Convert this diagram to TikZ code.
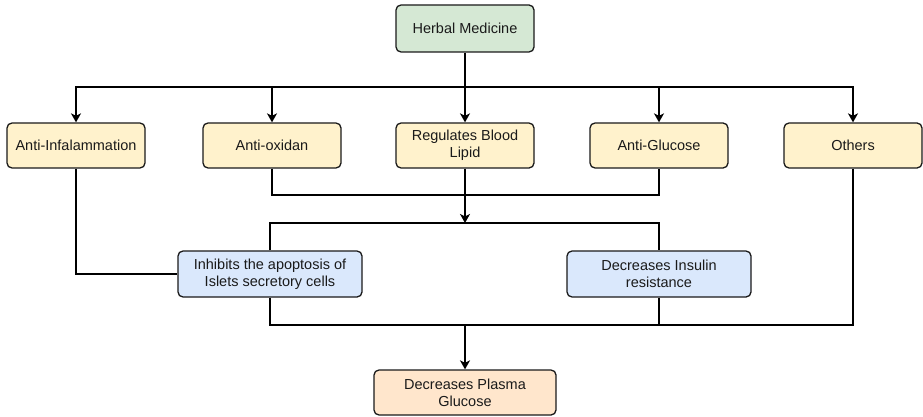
\documentclass[tikz,border=0pt]{standalone}
\usepackage{fontspec}
\setmainfont{Liberation Sans}
\usetikzlibrary{arrows.meta}
\definecolor{gfill}{HTML}{D5E8D4}
\definecolor{yfill}{HTML}{FFF2CC}
\definecolor{bfill}{HTML}{DAE8FC}
\definecolor{ofill}{HTML}{FFE6CC}
\definecolor{ink}{HTML}{1A1A1A}
\tikzset{
  box/.style={draw=ink, line width=1.3pt, rounded corners=5pt, align=center,
    font=\fontsize{14.5}{16.7}\selectfont, text=ink, inner sep=0pt},
  rowone/.style={box, fill=yfill, minimum width=138pt, minimum height=45pt},
  rowtwo/.style={box, fill=bfill, minimum width=184pt, minimum height=46pt},
  conn/.style={draw=black, line width=1.5pt},
  arr/.style={conn, -{Stealth[length=9pt,width=10pt,inset=2.5pt]}}
}
\begin{document}
\begin{tikzpicture}[x=1pt,y=-1pt]
\useasboundingbox (0,0) rectangle (923,417);
\node[box, fill=gfill, minimum width=138pt, minimum height=47pt] (herb) at (465,28.5) {Herbal Medicine};
\node[rowone] (a1) at (76,145.5) {Anti-Infalammation};
\node[rowone] (a2) at (272,145.5) {Anti-oxidan};
\node[rowone] (a3) at (465,145.5) {Regulates Blood\\Lipid};
\node[rowone] (a4) at (659,145.5) {Anti-Glucose};
\node[rowone] (a5) at (853,145.5) {Others};
\node[rowtwo] (b1) at (270,274) {Inhibits the apoptosis of\\Islets secretory cells};
\node[rowtwo] (b2) at (659,274) {Decreases Insulin\\resistance};
\node[box, fill=ofill, minimum width=182pt, minimum height=45pt] (c) at (465,392.5) {Decreases Plasma\\Glucose};
\coordinate (t) at (465,87);
\coordinate (j1) at (465,195);
\coordinate (j2) at (465,223);
\coordinate (j3) at (465,325);
\draw[conn] (herb.south) -- (t);
\draw[arr] (t) -| (a1.north);
\draw[arr] (t) -| (a2.north);
\draw[arr] (t) -- (a3.north);
\draw[arr] (t) -| (a4.north);
\draw[arr] (t) -| (a5.north);
\draw[conn] (a2.south) |- (j1) -| (a4.south);
\draw[arr] (a3.south) -- (j2);
\draw[conn] (b1.north) |- (j2) -| (b2.north);
\draw[conn] (a1.south) |- (b1.west);
\draw[conn] (b1.south) |- (j3);
\draw[conn] (b2.south) |- (j3);
\draw[conn] (a5.south) |- (j3);
\draw[arr] (j3) -- (c.north);
\end{tikzpicture}
\end{document}
